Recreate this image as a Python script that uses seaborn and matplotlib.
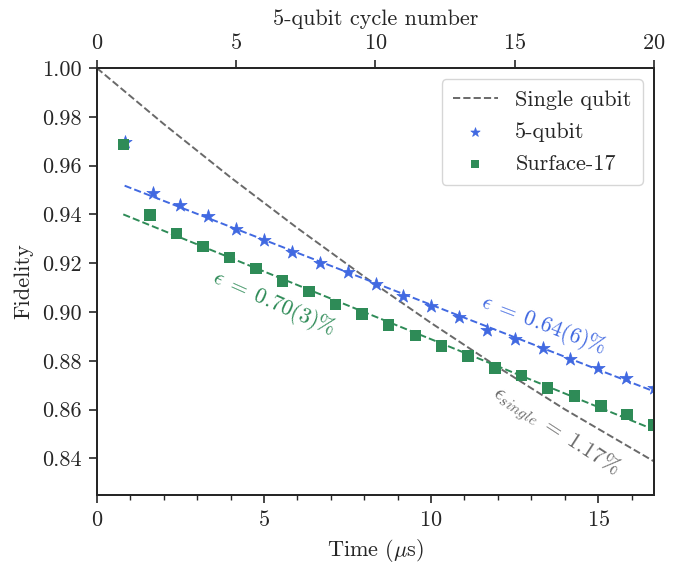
import numpy as np
import pandas as pd
import matplotlib
matplotlib.use("Agg")
import matplotlib.pyplot as plt
import seaborn as sns

# data
t_5q = [0.83, 1.67, 2.50, 3.33, 4.17, 5.00, 5.83, 6.67, 7.50, 8.34,
        9.17, 10.00, 10.84, 11.67, 12.50, 13.34, 14.17, 15.00, 15.84, 16.67]
f_5q = [0.9698, 0.9486, 0.9438, 0.9393, 0.9339, 0.9294, 0.9248, 0.9199, 0.9162, 0.9113,
        0.9064, 0.9023, 0.8978, 0.8928, 0.8890, 0.8853, 0.8808, 0.8770, 0.8729, 0.8689]

t_s17 = [0.79, 1.59, 2.38, 3.18, 3.97, 4.76, 5.56, 6.35, 7.14, 7.94, 8.73,
         9.53, 10.32, 11.11, 11.91, 12.70, 13.49, 14.29, 15.08, 15.87, 16.67]
f_s17 = [0.9686, 0.9397, 0.9321, 0.9268, 0.9223, 0.9178, 0.9127, 0.9083, 0.9031, 0.8991, 0.8947,
         0.8903, 0.8860, 0.8819, 0.8771, 0.8740, 0.8689, 0.8656, 0.8615, 0.8580, 0.8536]

t_single = [0, 2, 4, 6, 8, 10, 12, 14, 16.7]
f_single = [1.0, 0.9771, 0.9552, 0.9344, 0.9145, 0.8955, 0.8774, 0.8601, 0.8385]

t_max = 16.67
n_cycles = 20

sns.set_style("ticks")
plt.rcParams['font.family'] = ['cmr10', 'DejaVu Serif']
plt.rcParams['mathtext.fontset'] = 'cm'
plt.rcParams['axes.formatter.use_mathtext'] = True
plt.rcParams['font.size'] = 16
plt.rcParams['axes.linewidth'] = 1.4
plt.rcParams['xtick.direction'] = 'out'
plt.rcParams['ytick.direction'] = 'out'

blue = 'royalblue'
green = 'seagreen'
grey = 'dimgray'

fig = plt.figure(figsize=(6.92, 5.63), dpi=100)
ax = fig.add_axes([0.140, 0.121, 0.805, 0.758])

# single qubit reference
sns.lineplot(x=t_single, y=f_single, ax=ax, color=grey, linestyle='--',
             linewidth=1.4, label='Single qubit')

# linear fits (first point excluded)
for t, f, c in [(t_5q, f_5q, blue), (t_s17, f_s17, green)]:
    p = np.polyfit(t[1:], f[1:], 1)
    xs = np.array([t[0], t_max])
    sns.lineplot(x=xs, y=np.polyval(p, xs), ax=ax, color=c, linestyle='--',
                 linewidth=1.4, legend=False)

sns.scatterplot(x=t_5q, y=f_5q, ax=ax, marker='*', s=100, color=blue,
                edgecolor=blue, linewidth=0.5, label='5-qubit', zorder=3)
sns.scatterplot(x=t_s17, y=f_s17, ax=ax, marker='s', s=68, color=green,
                edgecolor='none', label='Surface-17', zorder=3)

ax.set_xlim(0, t_max)
ax.set_ylim(0.825, 1.0)
ax.set_yticks(np.arange(0.84, 1.001, 0.02))
ax.set_yticklabels([f"{v:.2f}" for v in np.arange(0.84, 1.001, 0.02)])
ax.set_xticks([0, 5, 10, 15])
ax.set_xticks(np.arange(0, 17, 1), minor=True)
ax.tick_params(which='major', length=6, width=1.2, pad=5)
ax.tick_params(which='minor', length=3.5, width=1.0)
ax.set_xlabel(r'Time ($\mu$s)', labelpad=5)
ax.set_ylabel('Fidelity', labelpad=6)

ax.text(5.3, 0.9035, r'$\epsilon\;=\;0.70(3)\%$', color=green, rotation=-24,
        ha='center', va='center', fontsize=16)
ax.text(13.35, 0.8945, r'$\epsilon\;=\;0.64(6)\%$', color=blue, rotation=-21,
        ha='center', va='center', fontsize=16)
ax.text(13.75, 0.851, r'$\epsilon_{single}\;=\;1.17\%$', color=grey, rotation=-33,
        ha='center', va='center', fontsize=16)

leg = ax.legend(loc='upper right', fontsize=16, frameon=True, fancybox=True,
                borderpad=0.5, handlelength=2.0, markerscale=0.7,
                labelspacing=0.55)
leg.get_frame().set_edgecolor('#cccccc')

top = ax.twiny()
top.set_xlim(0, n_cycles)
top.set_xticks([0, 5, 10, 15, 20])
top.tick_params(which='major', length=6, width=1.2, pad=5)
top.set_xlabel('5-qubit cycle number', labelpad=6)

fig.savefig('out.png', dpi=100)
